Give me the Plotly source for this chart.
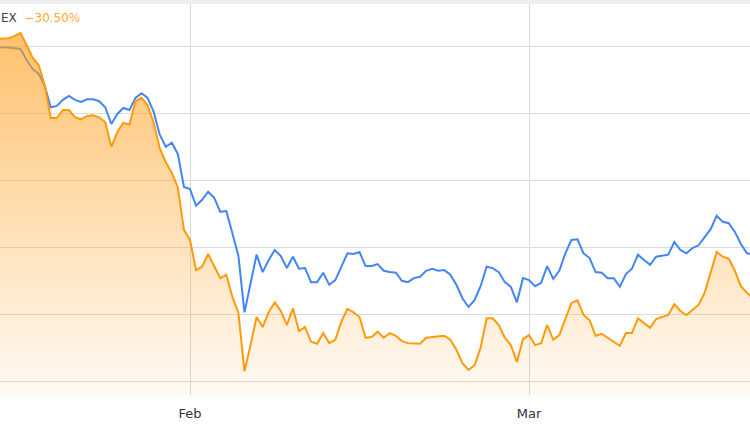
import pandas as pd
import plotly.graph_objects as go

# 12-hourly observations, first at 2022-01-16 00:00
START = "2022-01-16 00:00"

index_ex = [
    11.1, 11.1, 11.2, 11.5, 12.0, 10.2, 8.3, 7.2, 4.2, -0.7,
    -0.7, 0.5, 0.5, -0.6, -0.9, -0.4, -0.3, -0.6, -1.3, -5.0,
    -2.8, -1.4, -1.7, 1.8, 2.3, 1.2, -1.4, -5.2, -7.3, -8.9,
    -11.1, -17.4, -18.9, -23.4, -22.9, -21.0, -22.9, -24.6, -24.1, -27.4,
    -29.8, -38.5, -34.6, -30.4, -31.9, -29.7, -28.2, -29.5, -31.6, -29.1,
    -32.5, -31.9, -34.1, -34.4, -32.8, -34.3, -33.8, -31.1, -29.2, -29.7,
    -30.4, -33.5, -33.4, -32.6, -33.5, -32.8, -33.2, -34.0, -34.3, -34.3,
    -34.4, -33.5, -33.4, -33.4, -33.2, -33.8, -35.3, -37.3, -38.3, -37.6,
    -35.0, -30.6, -30.6, -31.6, -33.5, -34.6, -37.1, -33.7, -33.1, -34.6,
    -34.3, -31.6, -33.8, -33.1, -30.7, -28.3, -27.9, -30.1, -30.9, -33.2,
    -32.9, -33.5, -34.1, -34.7, -32.8, -32.8, -30.6, -31.3, -32.0, -30.7,
    -30.4, -30.1, -28.5, -29.5, -30.1, -29.4, -28.6, -26.8, -23.8, -20.7,
    -21.4, -21.7, -23.5, -25.8, -26.8, -27.6,
]

benchmark = [
    9.9, 9.9, 9.8, 9.7, 9.6, 8.0, 6.6, 5.9, 4.1, 0.9,
    1.1, 2.0, 2.6, 2.0, 1.7, 2.1, 2.1, 1.8, 0.9, -1.6,
    -0.1, 0.8, 0.5, 2.3, 3.0, 2.3, 0.2, -3.2, -5.0, -4.4,
    -6.1, -11.0, -11.3, -13.8, -12.9, -11.7, -12.6, -14.7, -14.6, -17.9,
    -21.3, -29.7, -25.3, -21.1, -23.7, -21.9, -20.4, -21.3, -23.1, -21.4,
    -23.2, -23.1, -25.2, -25.2, -23.8, -25.6, -24.9, -22.9, -20.9, -21.0,
    -20.7, -22.8, -22.8, -22.5, -23.5, -23.7, -23.8, -25.0, -25.2, -24.6,
    -24.4, -23.5, -23.2, -23.5, -23.4, -24.1, -25.6, -27.6, -28.9, -27.9,
    -25.8, -22.9, -23.1, -23.7, -25.2, -25.9, -28.2, -24.6, -24.9, -25.8,
    -25.3, -22.8, -24.7, -23.5, -20.9, -18.9, -18.8, -20.9, -21.6, -23.7,
    -23.8, -24.6, -24.6, -25.9, -24.0, -23.2, -21.1, -21.9, -22.6, -21.4,
    -21.3, -21.1, -19.2, -20.4, -20.9, -20.1, -19.7, -18.5, -17.3, -15.3,
    -16.2, -16.4, -17.7, -19.5, -20.9, -21.0,
]

label_name = "EX"
label_change = "\u221230.50%"

dates = pd.date_range(start=START, periods=len(index_ex), freq="12h")

Y_MIN, Y_MAX = -42.04, 16.31
X_MIN = pd.Timestamp("2022-02-01") - pd.Timedelta(hours=376.6)
X_MAX = pd.Timestamp("2022-02-01") + pd.Timedelta(hours=1110.0)

BLUE = "#4285f4"
ORANGE = "#ff9a0a"

fig = go.Figure()
fig.add_trace(go.Scatter(
    x=dates, y=benchmark, mode="lines",
    line=dict(color=BLUE, width=2), hoverinfo="skip", showlegend=False,
))
# baseline at the bottom of the axis for the area fill
fig.add_trace(go.Scatter(
    x=dates, y=[Y_MIN] * len(dates), mode="lines",
    line=dict(width=0, color="rgba(0,0,0,0)"), hoverinfo="skip", showlegend=False,
))
fig.add_trace(go.Scatter(
    x=dates, y=index_ex, mode="lines", fill="tonexty",
    line=dict(color=ORANGE, width=2),
    fillgradient=dict(
        type="vertical",
        colorscale=[[0, "rgba(255,160,30,0.05)"], [1, "rgba(255,160,30,0.65)"]],
        start=Y_MIN, stop=max(index_ex),
    ),
    hoverinfo="skip", showlegend=False,
))

fig.update_layout(
    width=750, height=430,
    margin=dict(l=0, r=0, t=4, b=35),
    paper_bgcolor="white", plot_bgcolor="white",
    font=dict(family="DejaVu Sans", color="#333333", size=13),
    xaxis=dict(
        type="date", range=[X_MIN, X_MAX],
        dtick="M1", tick0="2022-01-01", tickformat="%b",
        showgrid=True, gridcolor="#d8d8d8", gridwidth=1,
        zeroline=False, showline=False, ticks="",
        ticklabelstandoff=9,
        tickfont=dict(size=13, color="#333333"),
    ),
    yaxis=dict(
        range=[Y_MIN, Y_MAX], dtick=10, tick0=0,
        showgrid=True, gridcolor="#dcdcdc", gridwidth=1,
        zeroline=False, showline=False, showticklabels=False, ticks="",
    ),
    shapes=[dict(
        type="rect", xref="paper", yref="paper",
        x0=0, x1=1, y0=1, y1=1 + 4 / 391,
        fillcolor="#eeeeee", line=dict(width=0), layer="above",
    )],
    annotations=[dict(
        xref="paper", yref="paper", x=0, y=1 - 14 / 391,
        xanchor="left", yanchor="middle", xshift=-1, showarrow=False,
        text=(f"<span style='color:#444444'>{label_name}</span>  "
              f"<span style='color:#ffa733'>{label_change}</span>"),
        font=dict(family="DejaVu Sans", size=12),
    )],
)

fig.write_html(
    "out.html",
    config={"displayModeBar": False},
    post_script="document.body.style.margin='0';",
)
